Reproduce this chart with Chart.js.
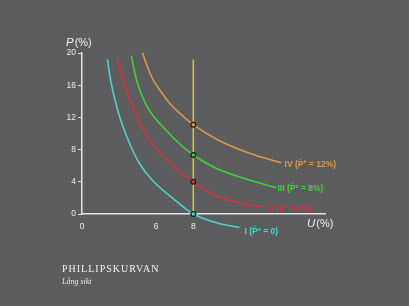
<!DOCTYPE html>
<html>
<head>
<meta charset="utf-8">
<script src="https://cdn.jsdelivr.net/npm/chart.js@4.4.1/dist/chart.umd.min.js"></script>
<style>
  html, body { margin: 0; padding: 0; }
  body {
    width: 409px; height: 306px; overflow: hidden; position: relative;
    background-color: #5b5b5d;
    background-image:
      repeating-linear-gradient(90deg, rgba(255,255,255,0.018) 0 1px, transparent 1px 4px),
      repeating-linear-gradient(0deg, rgba(255,255,255,0.018) 0 1px, transparent 1px 4px);
  }
  #wrap { position: absolute; left: 0; top: 0; width: 409px; height: 306px; }
  #title {
    position: absolute; left: 62px; top: 263px;
    font-family: "Liberation Serif", "DejaVu Serif", serif;
    font-size: 10px; letter-spacing: 1px; color: #f2f2f2; white-space: nowrap;
  }
  #subtitle {
    position: absolute; left: 62px; top: 277px;
    font-family: "Liberation Serif", "DejaVu Serif", serif;
    font-style: italic; font-size: 8px; color: #e8e8e8; white-space: nowrap;
  }
</style>
</head>
<body>
<div id="wrap"><canvas id="c" width="409" height="306"></canvas></div>
<div id="title">PHILLIPSKURVAN</div>
<div id="subtitle">Lång sikt</div>
<script>
// ---- data ----
const curveIx = [3.37, 3.54, 3.78, 4.05, 4.32, 4.65, 5.08, 5.78, 6.79, 8.0, 9.41, 10.49];
const curveIy = [19.22, 16.65, 14.16, 11.93, 10.19, 8.32, 6.34, 4.22, 2.15, 0.0, -1.18, -1.68];

const curveIIx = [3.91, 4.22, 4.59, 4.97, 5.35, 5.89, 6.70, 8.0, 9.23, 10.49, 11.73];
const curveIIy = [19.34, 16.65, 14.16, 12.05, 10.31, 8.45, 6.46, 4.0, 2.30, 1.37, 0.87];

const curveIIIx = [4.66, 4.94, 5.24, 5.62, 6.52, 7.24, 8.0, 9.23, 11.03, 12.47];
const curveIIIy = [19.63, 16.65, 14.66, 12.92, 10.43, 8.76, 7.33, 5.68, 4.22, 3.27];

const curveIVx = [5.26, 5.51, 5.81, 6.27, 6.81, 7.41, 8.0, 9.23, 11.03, 12.74];
const curveIVy = [20.04, 18.39, 16.77, 15.16, 13.54, 12.24, 11.09, 9.32, 7.54, 6.37];

const longRunX = [8, 8];
const longRunY = [0, 19.2];

const dotX = [8, 8, 8, 8];
const dotY = [11.09, 7.33, 4.0, 0.0];

const curveNames = ['I', 'II', 'III', 'IV'];
const curveExpect = ['0', '4%', '8%', '12%'];
const labelX = [10.76, 12.11, 12.54, 12.92];
const labelY = [-2.24, 0.62, 3.1, 6.09];

const xTickValues = [2, 6, 8];
const xTickLabels = ['0', '6', '8'];
const yTickValues = [0, 4, 8, 12, 16, 20];

// ---- styles ----
const colors = ['#4dd3cc', '#d6333d', '#3fd23a', '#d89a48'];
const yellow = '#cdbf45';
const axisColor = '#e4e4e4';

function pts(xs, ys) { return xs.map((x, i) => ({ x: x, y: ys[i] })); }

const curveData = [pts(curveIx, curveIy), pts(curveIIx, curveIIy), pts(curveIIIx, curveIIIy), pts(curveIVx, curveIVy)];

const datasets = [];
curveData.forEach((d, i) => {
  datasets.push({
    type: 'line', label: curveNames[i], data: d,
    borderColor: colors[i], borderWidth: 1.6, pointRadius: 0,
    cubicInterpolationMode: 'monotone', fill: false, clip: false, order: 3
  });
});
datasets.push({
  type: 'line', label: 'long run', data: pts(longRunX, longRunY),
  borderColor: yellow, borderWidth: 1.6, pointRadius: 0, clip: false, order: 2
});
datasets.push({
  type: 'scatter', label: 'points', data: pts(dotX, dotY),
  pointRadius: 2.4, pointBorderWidth: 1.2, pointBorderColor: '#1c1c1c',
  pointBackgroundColor: [colors[3], colors[2], colors[1], colors[0]],
  clip: false, order: 1
});

const labelPlugin = {
  id: 'labels',
  afterDatasetsDraw(chart) {
    const ctx = chart.ctx;
    const xs = chart.scales.x, ys = chart.scales.y;
    ctx.save();
    ctx.textBaseline = 'middle';
    ctx.textAlign = 'left';
    const base = 'bold 8.5px "Liberation Sans", Arial, sans-serif';
    const sup = 'bold 5.5px "Liberation Sans", Arial, sans-serif';
    for (let i = 0; i < curveNames.length; i++) {
      let x = xs.getPixelForValue(labelX[i]);
      const y = ys.getPixelForValue(labelY[i]);
      ctx.fillStyle = colors[i];
      const parts = [[curveNames[i] + ' (\u1E56', base, 0], ['e', sup, -3], [' = ' + curveExpect[i] + ')', base, 0]];
      parts.forEach(p => {
        ctx.font = p[1];
        ctx.fillText(p[0], x, y + p[2]);
        x += ctx.measureText(p[0]).width;
      });
    }
    // axis titles
    ctx.fillStyle = '#f0f0f0';
    const drawTitle = (letter, x, y) => {
      ctx.font = 'italic 11.5px "Liberation Sans", Arial, sans-serif';
      ctx.fillText(letter, x, y);
      x += ctx.measureText(letter).width + 1;
      ctx.font = '11px "Liberation Sans", Arial, sans-serif';
      ctx.fillText('(%)', x, y);
    };
    drawTitle('P', xs.left - 16, ys.getPixelForValue(20) - 10);
    drawTitle('U', xs.right - 18, ys.getPixelForValue(0) + 10);
    ctx.restore();
  }
};

new Chart(document.getElementById('c'), {
  data: { datasets: datasets },
  options: {
    responsive: false,
    animation: false,
    events: [],
    layout: { padding: { left: 52, top: 53, right: 84, bottom: 72 } },
    plugins: { legend: { display: false }, tooltip: { enabled: false }, title: { display: false } },
    scales: {
      x: {
        type: 'linear', position: 'bottom', min: 2, max: 15.1,
        afterBuildTicks: s => { s.ticks = xTickValues.map(v => ({ value: v })); },
        afterFit: s => { s.height = 20; },
        ticks: {
          callback: (v, i) => xTickLabels[i],
          color: '#ececec', padding: 8,
          font: { size: 8.5, family: '"Liberation Sans", Arial, sans-serif' },
          maxRotation: 0, autoSkip: false
        },
        grid: { display: true, drawOnChartArea: false, drawTicks: false },
        border: { display: true, color: axisColor, width: 1.5 }
      },
      y: {
        type: 'linear', position: 'left', min: 0, max: 20,
        afterBuildTicks: s => { s.ticks = yTickValues.map(v => ({ value: v })); },
        afterFit: s => { s.width = 30; },
        ticks: {
          color: '#ececec', padding: 2,
          font: { size: 8.5, family: '"Liberation Sans", Arial, sans-serif' }
        },
        grid: { display: true, drawOnChartArea: false, drawTicks: true, tickLength: 4, color: axisColor, tickWidth: 1 },
        border: { display: true, color: axisColor, width: 1.5 }
      }
    }
  },
  plugins: [labelPlugin]
});
</script>
</body>
</html>
